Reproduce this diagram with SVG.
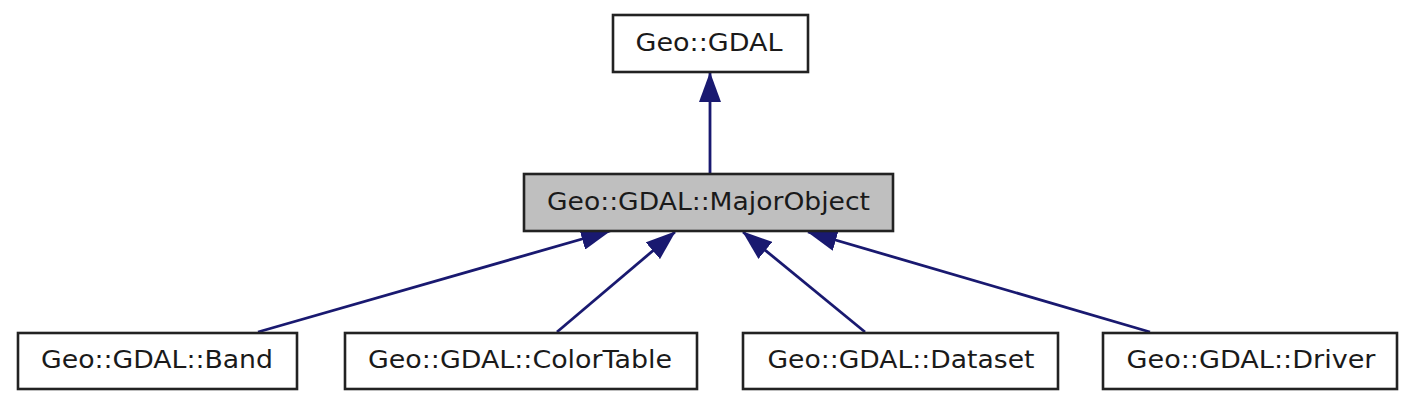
<svg xmlns="http://www.w3.org/2000/svg" width="1408" height="406" viewBox="0 0 1408 406">
<defs>
<style>
.box{fill:#ffffff;stroke:#222222;stroke-width:2.6}
.cur{fill:#bfbfbf;stroke:#222222;stroke-width:2.6}
.lbl{font-family:"DejaVu Sans",Verdana,sans-serif;font-size:24px;fill:#1a1a1a;text-anchor:middle}
.edge{fill:none;stroke:#191970;stroke-width:2.8}
</style>
<marker id="arr" viewBox="0 0 30 22" refX="29" refY="11" markerWidth="30" markerHeight="22" markerUnits="userSpaceOnUse" orient="auto">
<path d="M0,0 L30,11 L0,22 z" fill="#191970"/>
</marker>
</defs>
<rect width="1408" height="406" fill="#ffffff"/>
<g id="connectors">
<path class="edge" d="M710,174 L710,73" marker-end="url(#arr)"/>
<path class="edge" d="M258,332 L610,231" marker-end="url(#arr)"/>
<path class="edge" d="M557,332 L675,232" marker-end="url(#arr)"/>
<path class="edge" d="M865,332 L743,232" marker-end="url(#arr)"/>
<path class="edge" d="M1150,332 L808,232" marker-end="url(#arr)"/>
</g>
<g id="node-gdal">
<rect class="box" x="613" y="15" width="195" height="57"/>
<text class="lbl" x="709" y="51" textLength="147" lengthAdjust="spacingAndGlyphs">Geo::GDAL</text>
</g>
<g id="node-majorobject">
<rect class="cur" x="524" y="174" width="369" height="57"/>
<text class="lbl" x="708.5" y="210" textLength="323" lengthAdjust="spacingAndGlyphs">Geo::GDAL::MajorObject</text>
</g>
<g id="node-band">
<rect class="box" x="18" y="333" width="279" height="56"/>
<text class="lbl" x="157" y="368" textLength="232" lengthAdjust="spacingAndGlyphs">Geo::GDAL::Band</text>
</g>
<g id="node-colortable">
<rect class="box" x="345" y="333" width="352" height="56"/>
<text class="lbl" x="520" y="368" textLength="304" lengthAdjust="spacingAndGlyphs">Geo::GDAL::ColorTable</text>
</g>
<g id="node-dataset">
<rect class="box" x="743" y="333" width="315" height="56"/>
<text class="lbl" x="901" y="368" textLength="267" lengthAdjust="spacingAndGlyphs">Geo::GDAL::Dataset</text>
</g>
<g id="node-driver">
<rect class="box" x="1103" y="333" width="294" height="56"/>
<text class="lbl" x="1251" y="368" textLength="249" lengthAdjust="spacingAndGlyphs">Geo::GDAL::Driver</text>
</g>
</svg>
